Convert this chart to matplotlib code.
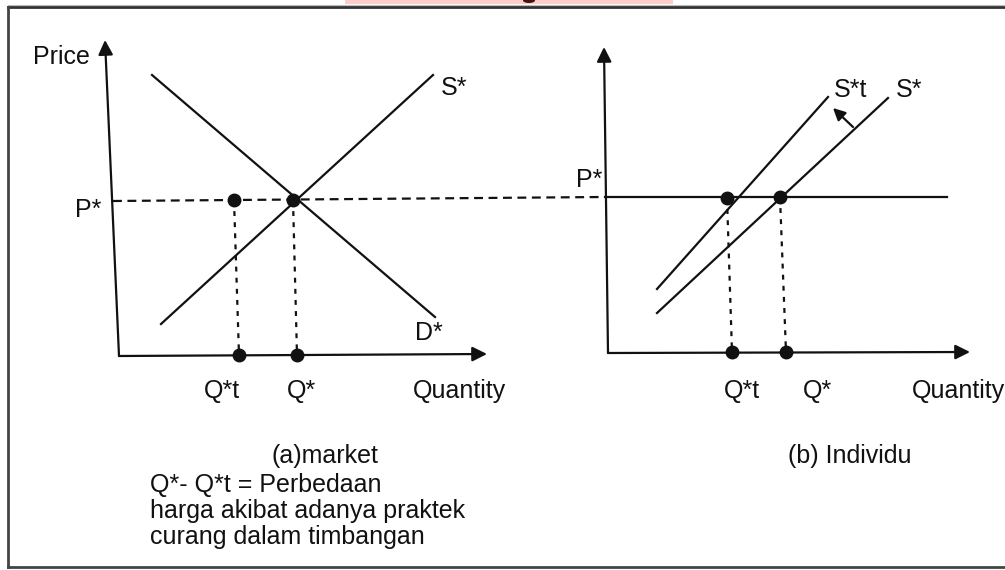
import matplotlib.pyplot as plt
from matplotlib.patches import Rectangle, Ellipse

plt.rcParams['font.family'] = ['Liberation Sans', 'DejaVu Sans']

# diagram in image coordinates (x right, y down)
# (a) market
a_yaxis = ([119, 105], [356, 40])
a_xaxis = ([119, 487], [356, 354])
a_demand = ([152, 435], [75, 317])
a_supply = ([161, 433], [324, 75])
a_eq = (293, 200)
a_qt_pt = (234, 200)
a_q_axis = [239, 297]
a_axis_y = 355
price_line = ([113, 603], [201, 197])

# (b) individu
b_yaxis = ([608, 604], [353, 47])
b_xaxis = ([608, 970], [353, 352])
b_price = ([605, 947], [197, 197])
b_st = ([657, 828], [289, 97])
b_s = ([657, 888], [313, 98])
b_pts = ([727, 780], [198, 197])
b_q_axis = [732, 786]
b_axis_y = 352
shift_arrow = ((853, 127), (833, 108))

labels = [
    ('Price', 33, 57, 'left'), ('S*', 441, 88, 'left'), ('P*', 101, 210, 'right'),
    ('D*', 415, 333, 'left'), ('Q*t', 222, 391, 'center'), ('Q*', 302, 391, 'center'),
    ('Quantity', 413, 391, 'left'),
    ('S*t', 834, 90, 'left'), ('S*', 896, 90, 'left'), ('P*', 602, 180, 'right'),
    ('Q*t', 742, 391, 'center'), ('Q*', 817, 391, 'center'), ('Quantity', 912, 391, 'left'),
    ('(a)market', 325, 456, 'center'), ('(b) Individu', 850, 456, 'center'),
    ('Q*- Q*t = Perbedaan', 150, 485, 'left'),
    ('harga akibat adanya praktek', 150, 511, 'left'),
    ('curang dalam timbangan', 150, 537, 'left'),
]

fig = plt.figure(figsize=(10.05, 5.70), dpi=100)
ax = fig.add_axes([0, 0, 1, 1])
ax.set_xlim(0, 1005)
ax.set_ylim(570, 0)
ax.axis('off')

lw = 1.6
k = '#111111'

# top pink banner remnant and frame
ax.add_patch(Rectangle((345, 0), 328, 4, color='#ffcccc', lw=0))
ax.add_patch(Ellipse((529, 0.5), 12, 5, color='#4a1010', lw=0))
ax.plot([8, 1005], [4.5, 4.5], color='#bbbbbb', lw=0.8)
ax.plot([8, 1005], [7, 7], color='#333333', lw=2)
ax.plot([8, 8], [7, 567], color='#444444', lw=2)
ax.plot([8, 1005], [567, 567], color='#444444', lw=2)


def axis_arrow(xs, ys):
    ax.annotate('', xy=(xs[1], ys[1]), xytext=(xs[0], ys[0]),
                arrowprops=dict(arrowstyle='-|>', mutation_scale=22, lw=lw,
                                color=k, shrinkA=0, shrinkB=0))


# (a) market
axis_arrow(*a_yaxis)
axis_arrow(*a_xaxis)
ax.plot(*a_demand, color=k, lw=lw)
ax.plot(*a_supply, color=k, lw=lw)
ax.plot(*price_line, color=k, lw=1.6, ls=(0, (4, 2.5)))
for (px, py), qx in zip([a_qt_pt, a_eq], a_q_axis):
    ax.plot([px, qx], [py, a_axis_y], color=k, lw=1.6, ls=(0, (2.2, 2.8)))
    ax.plot(px, py, 'o', color=k, ms=9)
    ax.plot(qx, a_axis_y, 'o', color=k, ms=9)

# (b) individu
axis_arrow(*b_yaxis)
axis_arrow(*b_xaxis)
ax.plot(*b_price, color=k, lw=lw)
ax.plot(*b_st, color=k, lw=lw)
ax.plot(*b_s, color=k, lw=lw)
for px, py, qx in zip(b_pts[0], b_pts[1], b_q_axis):
    ax.plot([px, qx], [py, b_axis_y], color=k, lw=1.6, ls=(0, (2.2, 2.8)))
    ax.plot(px, py, 'o', color=k, ms=9)
    ax.plot(qx, b_axis_y, 'o', color=k, ms=9)
ax.annotate('', xy=shift_arrow[1], xytext=shift_arrow[0],
            arrowprops=dict(arrowstyle='-|>', mutation_scale=18, lw=lw,
                            color=k, shrinkA=0, shrinkB=0))

for txt, x, y, ha in labels:
    ax.text(x, y, txt, ha=ha, va='center', fontsize=18, color=k)

fig.savefig('out.png', dpi=100)
